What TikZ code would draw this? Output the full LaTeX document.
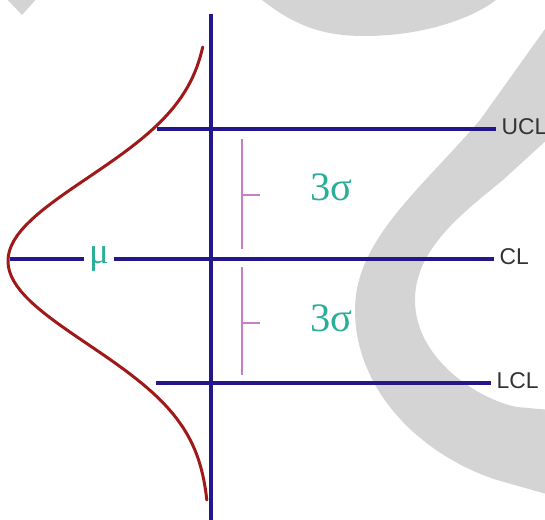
\documentclass[tikz,border=0pt]{standalone}
\usepackage{fontspec}
\setmainfont{Liberation Serif}
\setsansfont{Liberation Sans}
\usetikzlibrary{positioning}
\definecolor{spcNavy}{HTML}{24168C}
\definecolor{spcRed}{HTML}{A01818}
\definecolor{spcTeal}{HTML}{2BAE98}
\definecolor{spcPink}{HTML}{C87DC8}
\definecolor{spcInk}{HTML}{333333}
\definecolor{spcMark}{HTML}{D4D4D4}
\tikzset{
  spc axis/.style={draw=spcNavy, line width=2.2pt},
  spc limit/.style={draw=spcNavy, line width=2.3pt},
  spc bell/.style={draw=spcRed, line width=1.7pt, line cap=round},
  spc span/.style={draw=spcPink, line width=0.6pt},
  spc sigma/.style={font=\fontsize{23}{23}\selectfont, text=spcTeal},
  spc mu/.style={font=\fontsize{21}{21}\selectfont, text=spcTeal, inner xsep=2.8pt, inner ysep=0pt},
  spc label/.style={font=\sffamily\fontsize{13}{13}\selectfont, text=spcInk, inner xsep=3pt, anchor=west, yshift=1.5pt},
  spc mark/.style={fill=spcMark},
}
\begin{document}
\begin{tikzpicture}[x=0.02cm,y=-0.02cm]
  \useasboundingbox (0,0) rectangle (545,520);
  \fill[spc mark] (3,-5) -- (40,-5) -- (22,15) -- cycle;
  \fill[spc mark] (262,-5) -- (262,0) .. controls (300,30) and (330,36) .. (365,36) .. controls (420,36) and (470,20) .. (496,0) -- (496,-5) -- cycle;
  \fill[spc mark] (550,22) -- (480,120) .. controls (420,190) and (355,240) .. (355,310)
    .. controls (355,390) and (420,455) .. (497,480) -- (550,495) -- (550,410) -- (517,407)
    .. controls (480,400) and (415,360) .. (415,300) .. controls (415,250) and (460,215) .. (503,180)
    -- (550,137) -- cycle;

  \draw[spc axis] (211,14) -- (211,525);
  \foreach \lab/\y/\xs/\xe in {UCL/129/157/496, LCL/383/156/491} {
    \coordinate (\lab start) at (\xs,\y);
    \coordinate (\lab end) at (\xe,\y);
    \draw[spc limit] (\lab start) -- (\lab end);
    \node[spc label] (\lab) at (\lab end) {\lab};
  }
  \coordinate (CL start) at (10,259);
  \coordinate (CL end) at (494,259);
  \node[spc mu] (mu) at (99,259) {μ};
  \draw[spc limit] (CL start) -- (mu) -- (CL end);
  \node[spc label] (CL) at (CL end) {CL};

  \foreach \ys/\ye/\yt in {139/249/195, 267/375/323} {
    \draw[spc span] (242,\ys) -- (242,\ye);
    \draw[spc span] (242,\yt) -- (260,\yt);
  }
  \node[spc sigma] (upper sigma) at (331,187) {3σ};
  \node[spc sigma] (lower sigma) at (331,318) {3σ};

  \draw[spc bell] plot[domain=47:500, samples=90, variable=\t] ({210-202*exp(-0.5*((\t-261)/83)*((\t-261)/83))}, {\t});
\end{tikzpicture}
\end{document}
